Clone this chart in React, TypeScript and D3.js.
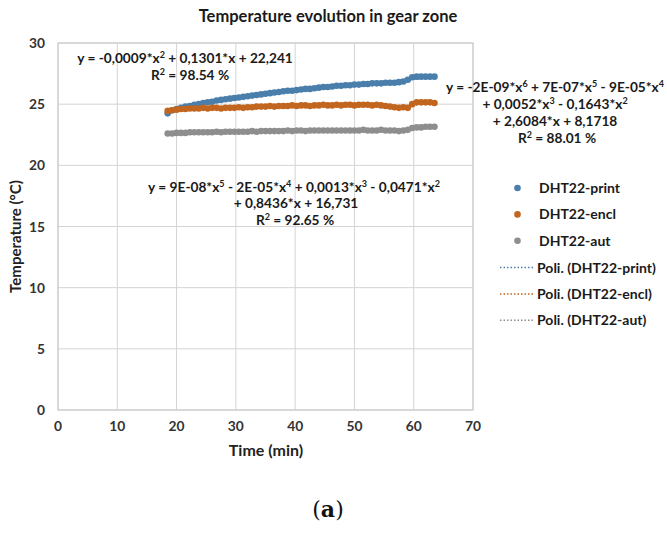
import * as d3 from "d3";

const WIDTH = 667;
const HEIGHT = 536;
const PLOT = { left: 58, top: 43, right: 473, bottom: 410 };
const FONT = "Lato, 'Open Sans', sans-serif";

// time of each reading (min)
const times = [
  18.5, 19.25, 20, 20.75, 21.5, 22.25, 23, 23.75, 24.5, 25.25, 26, 26.75, 27.5, 28.25, 29, 29.75,
  30.5, 31.25, 32, 32.75, 33.5, 34.25, 35, 35.75, 36.5, 37.25, 38, 38.75, 39.5, 40.25, 41, 41.75,
  42.5, 43.25, 44, 44.75, 45.5, 46.25, 47, 47.75, 48.5, 49.25, 50, 50.75, 51.5, 52.25, 53, 53.75,
  54.5, 55.25, 56, 56.75, 57.5, 58.25, 59, 59.75, 60.5, 61.25, 62, 62.75, 63.5,
];

const printTemps = [
  24.25, 24.5, 24.6, 24.7, 24.8, 24.85, 24.95, 25.0, 25.1, 25.15, 25.2, 25.3, 25.35, 25.4, 25.45, 25.5,
  25.55, 25.6, 25.65, 25.7, 25.75, 25.8, 25.85, 25.9, 25.95, 26.0, 26.05, 26.1, 26.1, 26.15, 26.2, 26.25,
  26.25, 26.3, 26.35, 26.4, 26.4, 26.45, 26.5, 26.5, 26.55, 26.55, 26.6, 26.6, 26.65, 26.65, 26.7, 26.7,
  26.7, 26.75, 26.75, 26.75, 26.8, 26.85, 27.0, 27.2, 27.25, 27.25, 27.25, 27.25, 27.25,
];

const enclTemps = [
  24.45, 24.5, 24.55, 24.6, 24.6, 24.65, 24.65, 24.65, 24.7, 24.65, 24.7, 24.7, 24.65, 24.7, 24.7, 24.7,
  24.75, 24.7, 24.75, 24.75, 24.8, 24.8, 24.8, 24.85, 24.8, 24.85, 24.85, 24.85, 24.9, 24.85, 24.9, 24.9,
  24.85, 24.9, 24.9, 24.95, 24.9, 24.9, 24.95, 24.9, 24.95, 24.95, 24.9, 24.95, 24.95, 24.95, 24.9, 24.95,
  24.9, 24.85, 24.8, 24.75, 24.7, 24.75, 24.7, 25.0, 25.15, 25.15, 25.15, 25.15, 25.1,
];

const autTemps = [
  22.6, 22.6, 22.65, 22.65, 22.65, 22.7, 22.7, 22.7, 22.7, 22.7, 22.7, 22.75, 22.7, 22.75, 22.75, 22.75,
  22.75, 22.75, 22.75, 22.8, 22.75, 22.8, 22.8, 22.8, 22.8, 22.8, 22.8, 22.85, 22.8, 22.85, 22.85, 22.8,
  22.85, 22.85, 22.85, 22.85, 22.85, 22.85, 22.85, 22.85, 22.85, 22.85, 22.85, 22.85, 22.9, 22.85, 22.85, 22.85,
  22.9, 22.85, 22.85, 22.85, 22.8, 22.85, 22.9, 23.05, 23.1, 23.1, 23.15, 23.15, 23.15,
];

const xTicks = [0, 10, 20, 30, 40, 50, 60, 70];
const yTicks = [0, 5, 10, 15, 20, 25, 30];

const seriesNames = ["DHT22-print", "DHT22-encl", "DHT22-aut"];
const seriesColors = ["#4a7eab", "#c2661f", "#8e8e8e"];
const seriesDegrees = [2, 6, 5];
const seriesValues = [printTemps, enclTemps, autTemps];

// least squares polynomial (like excel's "Poli." trendline), x normalised for stability
function polyFit(xs: number[], ys: number[], deg: number) {
  const m = d3.mean(xs) as number;
  const s = d3.deviation(xs) as number;
  const n = deg + 1;
  const A = Array.from({ length: n }, () => new Array(n + 1).fill(0));
  xs.forEach((x, k) => {
    const u = (x - m) / s;
    const p = Array.from({ length: n }, (_, i) => Math.pow(u, i));
    for (let i = 0; i < n; i++) {
      for (let j = 0; j < n; j++) A[i][j] += p[i] * p[j];
      A[i][n] += p[i] * ys[k];
    }
  });
  for (let c = 0; c < n; c++) {
    let piv = c;
    for (let r = c + 1; r < n; r++) if (Math.abs(A[r][c]) > Math.abs(A[piv][c])) piv = r;
    [A[c], A[piv]] = [A[piv], A[c]];
    for (let r = 0; r < n; r++) {
      if (r === c) continue;
      const f = A[r][c] / A[c][c];
      for (let j = c; j <= n; j++) A[r][j] -= f * A[c][j];
    }
  }
  const coef = A.map((row, i) => row[n] / row[i]);
  return (x: number) => {
    const u = (x - m) / s;
    return coef.reduce((acc, c, i) => acc + c * Math.pow(u, i), 0);
  };
}

const Sup = ({ t }: { t: string }) => (
  <tspan fontSize={9} dy={-5}>
    {t}
  </tspan>
);
// back to the baseline after a superscript
const Base = ({ t }: { t: string }) => <tspan dy={5}>{t}</tspan>;

export default function App() {
  const x = d3.scaleLinear().domain([0, 70]).range([PLOT.left, PLOT.right]);
  const y = d3.scaleLinear().domain([0, 30]).range([PLOT.bottom, PLOT.top]);

  const line = d3
    .line<[number, number]>()
    .x((d) => x(d[0]))
    .y((d) => y(d[1]));

  const t0 = times[0];
  const t1 = times[times.length - 1];
  const fitXs = d3.range(0, 101).map((i) => t0 + ((t1 - t0) * i) / 100);

  const eqStyle = { fontFamily: FONT, fontWeight: 700, fontSize: 13.7, fill: "#1a1a1a" } as const;

  return (
    <svg
      width={WIDTH}
      height={HEIGHT}
      style={{ position: "absolute", left: 0, top: 0, background: "#fff" }}
    >
      <text x={328} y={22} textAnchor="middle" fontFamily={FONT} fontWeight={700} fontSize={16.5} fill="#1a1a1a">
        Temperature evolution in gear zone
      </text>

      {/* grid */}
      {xTicks.map((t) => (
        <line key={"gx" + t} x1={x(t)} x2={x(t)} y1={PLOT.top} y2={PLOT.bottom} stroke="#d4d4d4" />
      ))}
      {yTicks.map((t) => (
        <line key={"gy" + t} x1={PLOT.left} x2={PLOT.right} y1={y(t)} y2={y(t)} stroke="#d4d4d4" />
      ))}
      <rect
        x={PLOT.left}
        y={PLOT.top}
        width={PLOT.right - PLOT.left}
        height={PLOT.bottom - PLOT.top}
        fill="none"
        stroke="#c8c8c8"
      />

      {/* tick labels */}
      {xTicks.map((t) => (
        <text key={"tx" + t} x={x(t)} y={431} textAnchor="middle" fontFamily={FONT} fontWeight={700} fontSize={13.8} fill="#333">
          {t}
        </text>
      ))}
      {yTicks.map((t) => (
        <text key={"ty" + t} x={45} y={y(t) + 5} textAnchor="end" fontFamily={FONT} fontWeight={700} fontSize={13.8} fill="#333">
          {t}
        </text>
      ))}

      <text x={266} y={456} textAnchor="middle" fontFamily={FONT} fontWeight={700} fontSize={16} fill="#222">
        Time (min)
      </text>
      <text
        transform={`translate(21,${(PLOT.top + PLOT.bottom) / 2 + 10}) rotate(-90)`}
        textAnchor="middle"
        fontFamily={FONT}
        fontWeight={700}
        fontSize={15}
        fill="#222"
      >
        Temperature (°C)
      </text>

      {/* points + trendlines */}
      {seriesValues.map((vals, si) => {
        const f = polyFit(times, vals, seriesDegrees[si]);
        return (
          <g key={seriesNames[si]}>
            <path
              d={line(fitXs.map((t) => [t, f(t)]) as [number, number][]) ?? ""}
              fill="none"
              stroke={seriesColors[si]}
              strokeWidth={1.5}
              strokeDasharray="1.5,2"
            />
            {vals.map((v, i) => (
              <circle key={i} cx={x(times[i])} cy={y(v)} r={3.3} fill={seriesColors[si]} />
            ))}
          </g>
        );
      })}

      {/* equation labels */}
      <text {...eqStyle} textAnchor="middle">
        <tspan x={185} y={63}>
          y = -0,0009*x<Sup t="2" />
          <Base t=" + 0,1301*x + 22,241" />
        </tspan>
        <tspan x={190} y={80}>
          R<Sup t="2" />
          <Base t=" = 98.54 %" />
        </tspan>
      </text>

      <text {...eqStyle} textAnchor="middle">
        <tspan x={555} y={92}>
          y = -2E-09*x<Sup t="6" />
          <Base t=" + 7E-07*x" />
          <Sup t="5" />
          <Base t=" - 9E-05*x" />
          <Sup t="4" />
        </tspan>
        <tspan x={555} y={109}>
          + 0,0052*x<Sup t="3" />
          <Base t=" - 0,1643*x" />
          <Sup t="2" />
        </tspan>
        <tspan x={555} y={126}>
          + 2,6084*x + 8,1718
        </tspan>
        <tspan x={557} y={143}>
          R<Sup t="2" />
          <Base t=" = 88.01 %" />
        </tspan>
      </text>

      <text {...eqStyle} textAnchor="middle">
        <tspan x={294} y={192}>
          y = 9E-08*x<Sup t="5" />
          <Base t=" - 2E-05*x" />
          <Sup t="4" />
          <Base t=" + 0,0013*x" />
          <Sup t="3" />
          <Base t=" - 0,0471*x" />
          <Sup t="2" />
        </tspan>
        <tspan x={296} y={208}>
          + 0,8436*x + 16,731
        </tspan>
        <tspan x={295} y={225}>
          R<Sup t="2" />
          <Base t=" = 92.65 %" />
        </tspan>
      </text>

      {/* legend */}
      {seriesNames.map((name, i) => (
        <g key={"lm" + name}>
          <circle cx={517.5} cy={188 + i * 26.4} r={3.3} fill={seriesColors[i]} />
          <text x={539} y={193 + i * 26.4} fontFamily={FONT} fontWeight={700} fontSize={14} fill="#1a1a1a">
            {name}
          </text>
        </g>
      ))}
      {seriesNames.map((name, i) => (
        <g key={"lt" + name}>
          <line
            x1={500}
            x2={533}
            y1={267.5 + i * 26.4}
            y2={267.5 + i * 26.4}
            stroke={seriesColors[i]}
            strokeWidth={1.5}
            strokeDasharray="1.5,2"
          />
          <text x={537} y={272.5 + i * 26.4} fontFamily={FONT} fontWeight={700} fontSize={14} fill="#1a1a1a">
            Poli. ({name})
          </text>
        </g>
      ))}

      {/* panel label */}
      <text x={328} y={517} textAnchor="middle" fontFamily="'DejaVu Serif', 'Liberation Serif', serif" fontSize={22} fill="#111">
        (<tspan fontWeight={700}>a</tspan>)
      </text>
    </svg>
  );
}
